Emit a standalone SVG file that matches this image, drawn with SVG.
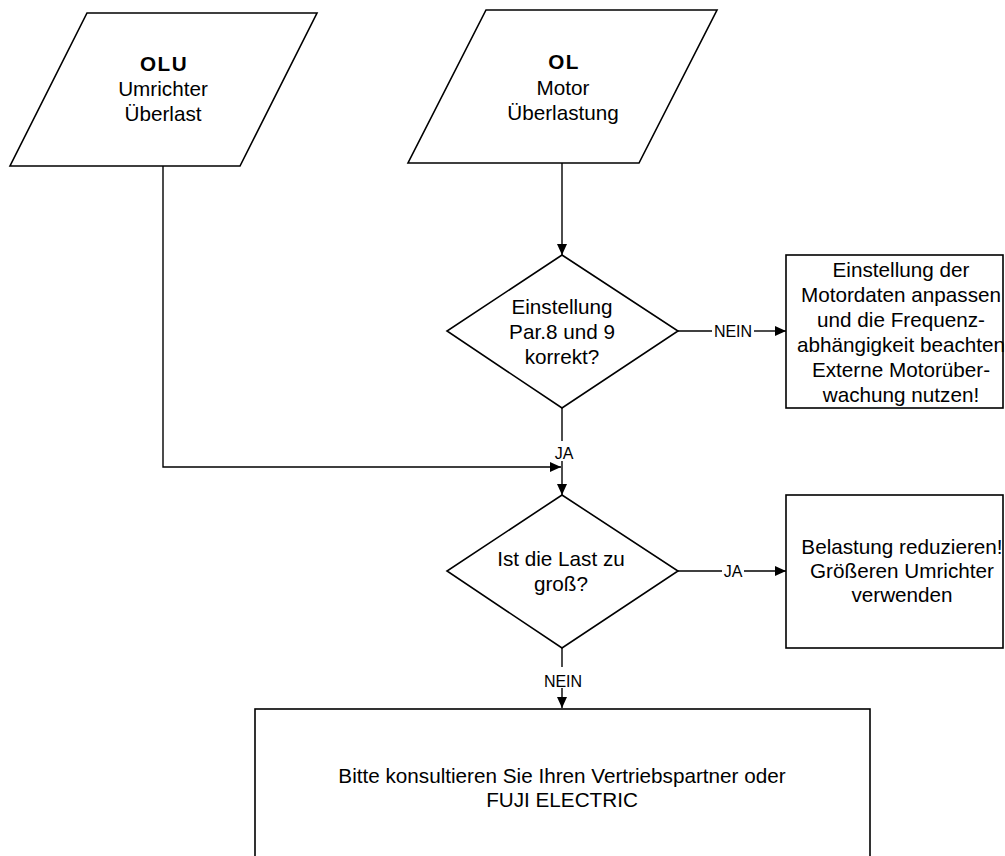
<svg xmlns="http://www.w3.org/2000/svg" width="1005" height="856" viewBox="0 0 1005 856">
<style>
.shape{fill:#fff;stroke:#000;stroke-width:1.6}
.conn{fill:none;stroke:#000;stroke-width:1.4}
.t{font-family:"Liberation Sans",Arial,sans-serif;font-size:20.7px;fill:#000;text-anchor:middle}
.b{font-weight:bold;letter-spacing:1.5px}
.lbl{font-family:"Liberation Sans",Arial,sans-serif;font-size:16px;fill:#000;text-anchor:middle}
</style>
<defs>
<marker id="arr" markerUnits="userSpaceOnUse" markerWidth="12" markerHeight="10" refX="11" refY="5" orient="auto">
<path d="M0,0 L11,5 L0,10 z" fill="#000"/>
</marker>
</defs>
<rect width="1005" height="856" fill="#fff"/>
<g id="connectors">
<polyline class="conn" points="163,166 163,467 561,467" marker-end="url(#arr)"/>
<line class="conn" x1="562" y1="163" x2="562" y2="255" marker-end="url(#arr)"/>
<line class="conn" x1="678" y1="331" x2="712" y2="331"/>
<text class="lbl" x="733" y="337">NEIN</text>
<line class="conn" x1="754" y1="331" x2="786" y2="331" marker-end="url(#arr)"/>
<line class="conn" x1="562" y1="408" x2="562" y2="441"/>
<text class="lbl" x="564" y="459">JA</text>
<line class="conn" x1="562" y1="461" x2="562" y2="495" marker-end="url(#arr)"/>
<line class="conn" x1="678" y1="571" x2="722" y2="571"/>
<text class="lbl" x="733" y="577">JA</text>
<line class="conn" x1="744" y1="571" x2="786" y2="571" marker-end="url(#arr)"/>
<line class="conn" x1="562" y1="648" x2="562" y2="667"/>
<text class="lbl" x="563" y="687">NEIN</text>
<line class="conn" x1="562" y1="688" x2="562" y2="708" marker-end="url(#arr)"/>
</g>
<g id="olu">
<polygon class="shape" points="87,13 317,13 240,166 10,166"/>
<text class="t b" x="164" y="71">OLU</text>
<text class="t" x="163" y="96">Umrichter</text>
<text class="t" x="163" y="121">Überlast</text>
</g>
<g id="ol">
<polygon class="shape" points="486,10 717,10 639,163 408,163"/>
<text class="t b" x="564" y="69">OL</text>
<text class="t" x="563" y="95">Motor</text>
<text class="t" x="563" y="120">Überlastung</text>
</g>
<g id="check-par">
<polygon class="shape" points="562,255 678,331 562,408 447,331"/>
<text class="t" x="562" y="314">Einstellung</text>
<text class="t" x="562" y="339">Par.8 und 9</text>
<text class="t" x="562" y="364">korrekt?</text>
</g>
<g id="motordaten">
<rect class="shape" x="786" y="255" width="217" height="153"/>
<text class="t" x="901" y="277">Einstellung der</text>
<text class="t" x="901" y="302">Motordaten anpassen</text>
<text class="t" x="901" y="327">und die Frequenz-</text>
<text class="t" x="901" y="352">abhängigkeit beachten</text>
<text class="t" x="901" y="377">Externe Motorüber-</text>
<text class="t" x="901" y="402">wachung nutzen!</text>
</g>
<g id="check-last">
<polygon class="shape" points="562,495 678,571 562,648 447,571"/>
<text class="t" x="561" y="566">Ist die Last zu</text>
<text class="t" x="561" y="591">groß?</text>
</g>
<g id="belastung">
<rect class="shape" x="786" y="495" width="217" height="153"/>
<text class="t" x="902" y="554">Belastung reduzieren!</text>
<text class="t" x="902" y="578">Größeren Umrichter</text>
<text class="t" x="902" y="602">verwenden</text>
</g>
<g id="kontakt">
<rect class="shape" x="255" y="709" width="615" height="160"/>
<text class="t" x="562" y="783">Bitte konsultieren Sie Ihren Vertriebspartner oder</text>
<text class="t" x="562" y="807">FUJI ELECTRIC</text>
</g>
</svg>
